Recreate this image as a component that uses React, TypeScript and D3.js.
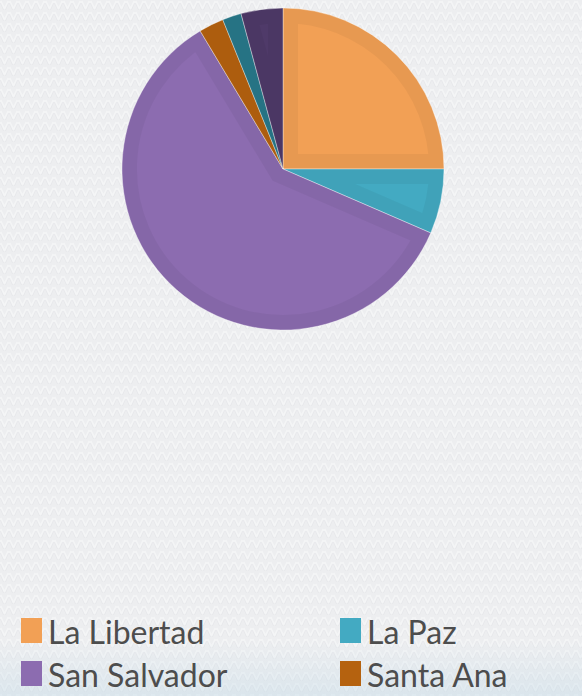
import React from "react";
import * as d3 from "d3";

const categories = ["La Libertad", "La Paz", "San Salvador", "Santa Ana", "Sonsonate", "Otros"];
const values = [25.0, 6.5, 59.9, 2.5, 1.9, 4.2];
const colors = ["#F2A055", "#43AAC2", "#8C6CB0", "#B5620F", "#28798A", "#4F3A69"];

const W = 582;
const H = 696;

export default function App() {
  const cx = 283;
  const cy = 169;
  const r = 161;
  const pie = d3.pie<number>().sort(null).startAngle(0).endAngle(2 * Math.PI);
  const arcs = pie(values);
  const arcGen = d3.arc<d3.PieArcDatum<number>>().innerRadius(0).outerRadius(r);

  const legendCols = [21, 340];
  const legendRows = [618, 661, 704];
  const visible = categories.slice(0, 4);

  return (
    <svg width={W} height={H} style={{ position: "absolute", left: 0, top: 0, display: "block" }}>
      <defs>
        <pattern id="knit" width="9" height="11" patternUnits="userSpaceOnUse">
          <rect width="9" height="11" fill="#EDEEF0" />
          <path d="M0.5,1 L4.5,9 M8.5,1 L4.5,9" stroke="#F4F5F6" strokeWidth="2" fill="none" />
          <path d="M0.5,3 L3.5,10 M8.5,3 L5.5,10" stroke="#E2E3E6" strokeWidth="0.8" fill="none" opacity="0.7" />
        </pattern>
        <linearGradient id="blueTint" x1="0" y1="0" x2="0" y2="1">
          <stop offset="0" stopColor="#BFD8E6" stopOpacity="0" />
          <stop offset="1" stopColor="#BFD8E6" stopOpacity="0.4" />
        </linearGradient>
        {arcs.map((a, i) => (
          <clipPath id={`clip${i}`} key={i}>
            <path d={arcGen(a) || ""} />
          </clipPath>
        ))}
      </defs>
      <rect width={W} height={H} fill="url(#knit)" />
      <rect x={0} y={640} width={W} height={56} fill="url(#blueTint)" />

      <g transform={`translate(${cx},${cy})`}>
        {arcs.map((a, i) => (
          <g key={i}>
            <path d={arcGen(a) || ""} fill={colors[i]} />
            <path
              d={arcGen(a) || ""}
              fill="none"
              stroke="#000"
              strokeOpacity={0.045}
              strokeWidth={30}
              clipPath={`url(#clip${i})`}
            />
            <path d={arcGen(a) || ""} fill="none" stroke="#ffffff" strokeOpacity={0.45} strokeWidth={0.8} />
          </g>
        ))}
      </g>

      <g fontFamily="Lato, 'Open Sans', sans-serif" fill="#4D4D4D">
        {visible.map((c, i) => {
          const col = i % 2;
          const row = Math.floor(i / 2);
          const x = legendCols[col];
          const y = legendRows[row];
          return (
            <g key={c}>
              <rect x={x} y={y} width={21} height={25} fill={colors[i]} />
              <text x={x + 27} y={y + 26} fontSize={32}>
                {c}
              </text>
            </g>
          );
        })}
      </g>
    </svg>
  );
}
